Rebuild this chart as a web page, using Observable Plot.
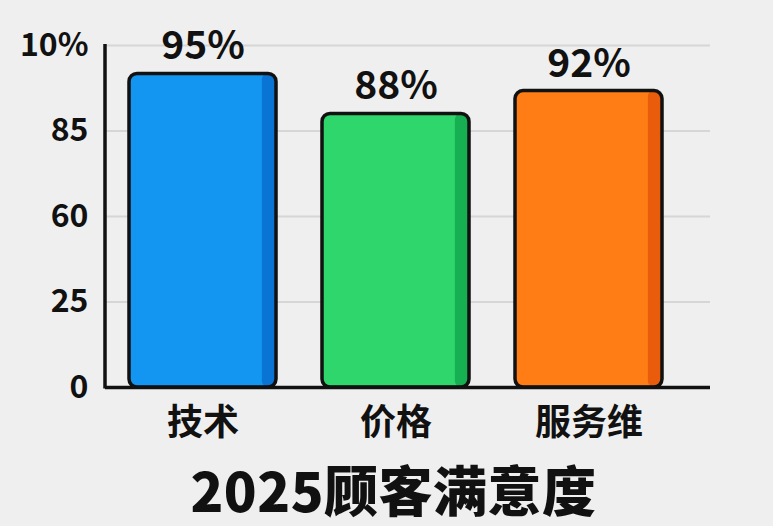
<!DOCTYPE html>
<html><head><meta charset="utf-8">
<script src="https://cdn.jsdelivr.net/npm/d3@7"></script>
<script src="https://cdn.jsdelivr.net/npm/@observablehq/plot@0.6"></script>
<style>
html,body{margin:0;padding:0;background:#efefef;overflow:hidden;}
#chart{width:773px;height:452px;}
#title{width:773px;font-family:'Noto Sans CJK SC',sans-serif;font-weight:900;font-size:54px;line-height:66px;height:66px;text-align:center;color:#111;padding-left:14px;box-sizing:border-box;margin-top:4px;letter-spacing:0.5px;}
</style></head><body>
<div id="chart"></div>
<div id="title"></div>
<script>
const categories = ["技术", "价格", "服务维"];
const values = [95, 88, 92];
const valueLabels = ["95%", "88%", "92%"];
const barColors = ["#1296f2", "#2ed66b", "#ff7d14"];
const shadeColors = ["#0a74d4", "#16b052", "#e95c0c"];
const yTicks = [0, 25, 60, 85, 100];
const yTickLabels = ["0", "25", "60", "85", "10%"];
const titleText = "2025顾客满意度";

// the reference axis spaces its ticks evenly: map values piecewise onto tick positions
const tickIndex = d3.range(yTicks.length);
const pw = d3.scaleLinear().domain(yTicks).range(tickIndex);

const data = categories.map((c, i) => ({category: c, value: values[i], label: valueLabels[i], color: barColors[i], shade: shadeColors[i]}));

const W = 773, H = 452, mt = 45, mb = 65, ml = 105, mr = 63;
const xRange = [ml, 687];
const pIn = 0.237, pOut = 0.12;
const bw = d3.scaleBand().domain(categories).range(xRange).paddingInner(pIn).paddingOuter(pOut).bandwidth();
const stripW = 15;

const leftAxis = (index, scales, values, dims) => {
  const line = document.createElementNS("http://www.w3.org/2000/svg", "line");
  line.setAttribute("x1", dims.marginLeft);
  line.setAttribute("x2", dims.marginLeft);
  line.setAttribute("y1", scales.y(tickIndex[tickIndex.length - 1]) - 1);
  line.setAttribute("y2", scales.y(0) + 1.5);
  line.setAttribute("stroke", "#111");
  line.setAttribute("stroke-width", 3.5);
  return line;
};

const yv = d => pw(d.value);

const chart = Plot.plot({
  width: W, height: H,
  marginTop: mt, marginBottom: mb, marginLeft: ml, marginRight: mr,
  style: {background: "transparent", fontFamily: "'Noto Sans CJK SC', sans-serif", fontWeight: "bold", color: "#111"},
  x: {domain: categories, range: xRange, paddingInner: pIn, paddingOuter: pOut},
  y: {domain: [0, tickIndex.length - 1]},
  color: {type: "identity"},
  marks: [
    Plot.gridY(tickIndex, {stroke: "#d6d6d6", strokeOpacity: 1, strokeWidth: 2}),
    Plot.barY(data, {x: "category", y: yv, fill: "color", rx: 8}),
    Plot.barY(data, {x: "category", y: yv, fill: "shade", insetLeft: bw - stripW, rx: 6}),
    Plot.barY(data, {x: "category", y: yv, fill: "none", stroke: "#111", strokeWidth: 3.5, rx: 8}),
    Plot.ruleY([0], {stroke: "#111", strokeWidth: 3.5}),
    leftAxis,
    Plot.text(data, {x: "category", y: yv, text: "label", dy: -27, fontSize: 39, fontWeight: "bold", fill: "#111"}),
    Plot.axisY(tickIndex, {tickSize: 0, tickPadding: 17, fontSize: 32, label: null, tickFormat: i => yTickLabels[i]}),
    Plot.axisX({tickSize: 0, tickPadding: 22, fontSize: 36, label: null})
  ]
});
document.getElementById("chart").appendChild(chart);
document.getElementById("title").textContent = titleText;
</script>
</body></html>
